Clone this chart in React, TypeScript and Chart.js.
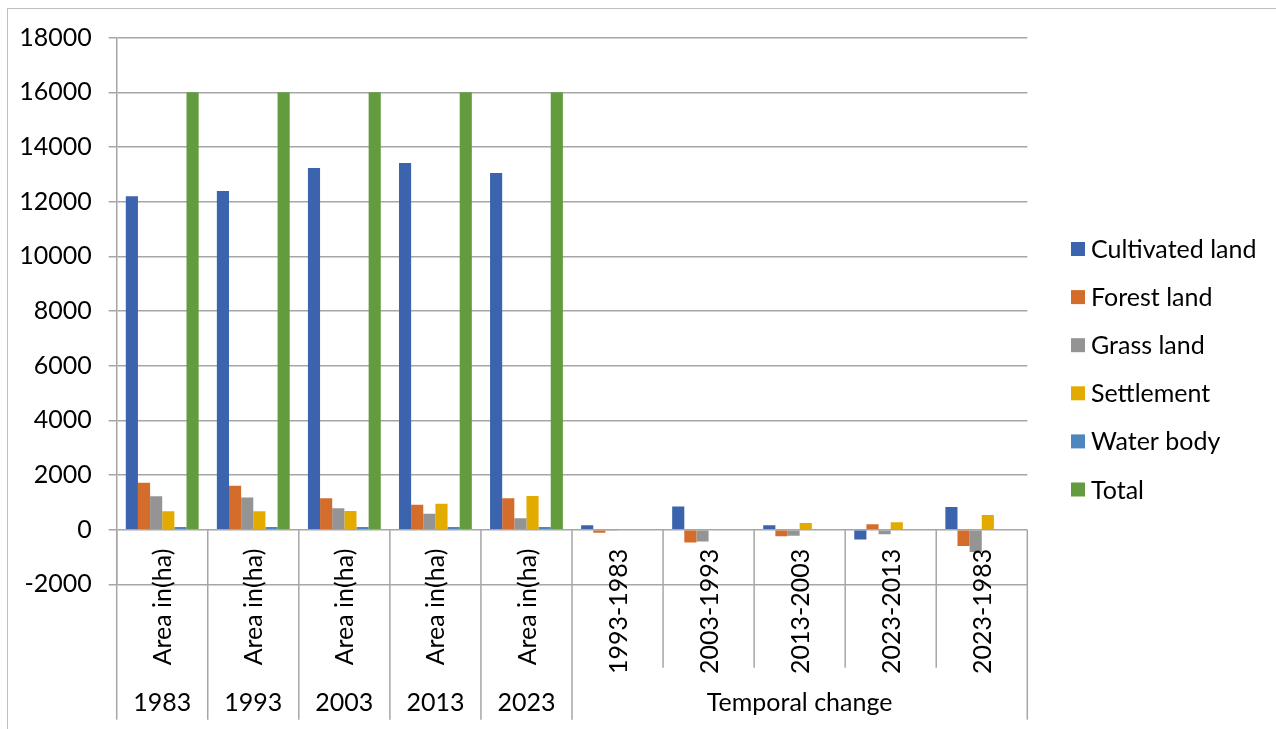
import React, { useEffect, useRef } from "react";
import { Chart, registerables } from "chart.js";

Chart.register(...registerables);

// ---------- data ----------
const categories = [
  "Area in(ha)",
  "Area in(ha)",
  "Area in(ha)",
  "Area in(ha)",
  "Area in(ha)",
  "1993-1983",
  "2003-1993",
  "2013-2003",
  "2023-2013",
  "2023-1983",
];
const groupLabels = ["1983", "1993", "2003", "2013", "2023", "Temporal change"];
const groupSpans = [1, 1, 1, 1, 1, 5];

const seriesNames = ["Cultivated land", "Forest land", "Grass land", "Settlement", "Water body", "Total"];
const cultivated = [12200, 12390, 13230, 13415, 13050, 160, 850, 160, -365, 830];
const forest = [1720, 1610, 1145, 915, 1145, -110, -475, -245, 200, -600];
const grass = [1220, 1180, 780, 585, 415, -40, -430, -220, -170, -820];
const settlement = [670, 670, 680, 950, 1230, 0, 10, 240, 270, 535];
const water = [95, 95, 95, 95, 95, 0, 0, 0, 0, 0];
const total = [16000, 16000, 16000, 16000, 16000, 0, 0, 0, 0, 0];

const yMin = -2000;
const yMax = 18000;
const yStep = 2000;

const seriesColors = ["#3C64AE", "#D46D2B", "#949494", "#E3AB00", "#4F86C0", "#639B3F"];

// ---------- styling ----------
const FONT = "Lato";
const FONT_SIZE = 25;
const GRID = "#a6a6a6";
const TEXT = "#000000";

const customAxisPlugin = {
  id: "customAxis",
  afterDraw(chart: any) {
    const { ctx, chartArea, scales } = chart;
    const x = scales.x;
    const y = scales.y;
    const y0 = y.getPixelForValue(0);
    const n = categories.length;
    const w = (chartArea.right - chartArea.left) / n;

    ctx.save();
    // outer chart border
    ctx.strokeStyle = "#bfbfbf";
    ctx.lineWidth = 1;
    ctx.strokeRect(7.5, 8.5, 1400, 900);

    // category tick / group separator lines
    const groupBounds = new Set<number>();
    let acc = 0;
    groupBounds.add(0);
    for (const s of groupSpans) {
      acc += s;
      groupBounds.add(acc);
    }
    ctx.strokeStyle = GRID;
    ctx.lineWidth = 1.5;
    for (let i = 0; i <= n; i++) {
      const xi = chartArea.left + i * w;
      const yEnd = groupBounds.has(i) ? y0 + 190 : y0 + 138;
      ctx.beginPath();
      ctx.moveTo(xi, y0);
      ctx.lineTo(xi, yEnd);
      ctx.stroke();
    }

    ctx.fillStyle = TEXT;
    ctx.font = `${FONT_SIZE}px ${FONT}`;
    // rotated category labels
    for (let i = 0; i < n; i++) {
      const cx = x.getPixelForValue(i);
      ctx.save();
      ctx.translate(cx + 1, y0 + 19);
      ctx.rotate(-Math.PI / 2);
      ctx.textAlign = "right";
      ctx.textBaseline = "middle";
      ctx.fillText(categories[i], 0, 0);
      ctx.restore();
    }
    // group labels
    let start = 0;
    groupLabels.forEach((g, gi) => {
      const span = groupSpans[gi];
      const cx = chartArea.left + (start + span / 2) * w;
      ctx.textAlign = "center";
      ctx.textBaseline = "middle";
      ctx.fillText(g, cx, y0 + 173);
      start += span;
    });

    // legend
    seriesNames.forEach((name, i) => {
      const cy = 249 + i * 48.1;
      ctx.fillStyle = seriesColors[i];
      ctx.fillRect(1071, cy - 7, 14, 14);
      ctx.fillStyle = TEXT;
      ctx.textAlign = "left";
      ctx.textBaseline = "middle";
      ctx.fillText(name, 1091, cy + 1);
    });
    ctx.restore();
  },
};

export default function App() {
  const canvasRef = useRef<HTMLCanvasElement | null>(null);

  useEffect(() => {
    let chart: Chart | null = null;
    let cancelled = false;
    const build = () => {
      if (cancelled || !canvasRef.current) return;
      const seriesData = [cultivated, forest, grass, settlement, water, total];
      chart = new Chart(canvasRef.current, {
        type: "bar",
        data: {
          labels: categories.map((c, i) => `${c}-${i}`),
          datasets: seriesNames.map((name, i) => ({
            label: name,
            data: seriesData[i],
            backgroundColor: seriesColors[i],
            borderWidth: 0,
            categoryPercentage: 0.8,
            barPercentage: 1.0,
          })),
        },
        options: {
          responsive: false,
          animation: false,
          devicePixelRatio: 1,
          layout: { padding: { top: 37.7, left: 0, right: 248.7, bottom: 144.7 } },
          plugins: {
            legend: { display: false },
            tooltip: { enabled: false },
            title: { display: false },
          },
          scales: {
            x: { display: false, offset: true, grid: { display: false } },
            y: {
              min: yMin,
              max: yMax,
              afterFit: (scale: any) => {
                scale.width = 116.7;
              },
              ticks: {
                stepSize: yStep,
                color: TEXT,
                padding: 17,
                font: { family: FONT, size: FONT_SIZE },
                callback: (v: any) => String(v),
              },
              grid: {
                color: GRID,
                lineWidth: 1.5,
                tickLength: 8,
                drawTicks: true,
              },
              border: { display: true, color: GRID, width: 1.5 },
            },
          },
        },
        plugins: [customAxisPlugin],
      });
    };
    const fontsReady = (document as any).fonts
      ? Promise.all([
          (document as any).fonts.load(`${FONT_SIZE}px ${FONT}`),
        ]).catch(() => null)
      : Promise.resolve(null);
    fontsReady.then(build);
    return () => {
      cancelled = true;
      if (chart) chart.destroy();
    };
  }, []);

  return (
    <div style={{ position: "absolute", left: 0, top: 0, width: 1276, height: 729, background: "#fff" }}>
      <canvas ref={canvasRef} width={1276} height={729} style={{ display: "block" }} />
    </div>
  );
}
